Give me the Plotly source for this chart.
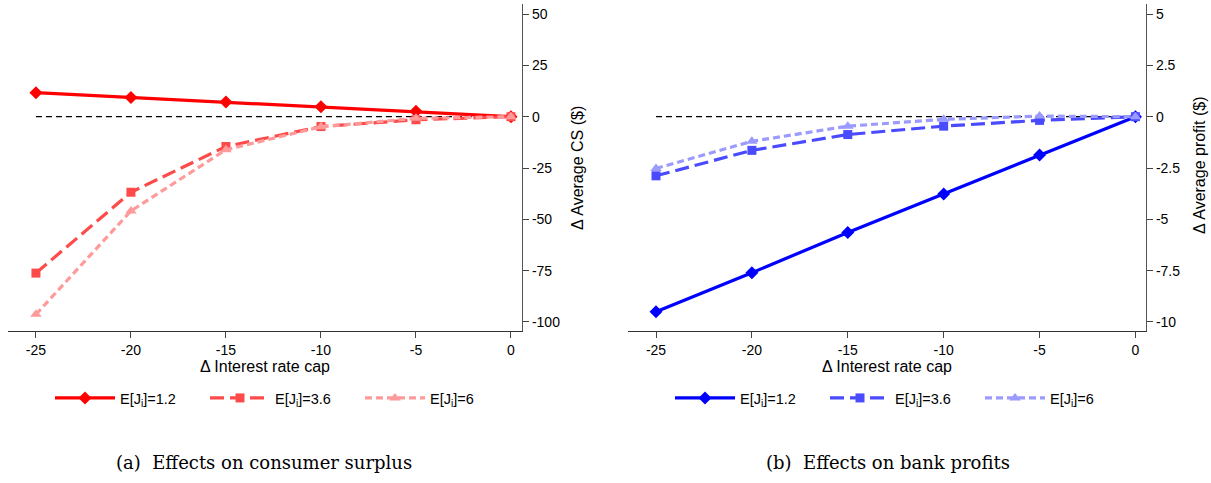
import plotly.graph_objects as go

# ---- data ----
rate_cap = [-25, -20, -15, -10, -5, 0]
rate_cap_labels = ["-25", "-20", "-15", "-10", "-5", "0"]
series_names = ["E[J<sub>i</sub>]=1.2", "E[J<sub>i</sub>]=3.6", "E[J<sub>i</sub>]=6"]

cs_12 = [11.7, 9.4, 7.2, 4.8, 2.6, 0.0]
cs_36 = [-76.2, -36.8, -14.5, -4.8, -1.5, 0.0]
cs_6 = [-96.3, -45.9, -16.1, -4.9, -0.8, 0.0]

pf_12 = [-9.5, -7.6, -5.64, -3.77, -1.86, 0.0]
pf_36 = [-2.88, -1.64, -0.87, -0.46, -0.18, 0.0]
pf_6 = [-2.52, -1.2, -0.46, -0.13, 0.03, 0.0]

cs_ticks = [50, 25, 0, -25, -50, -75, -100]
cs_ticklabels = ["50", "25", "0", "-25", "-50", "-75", "-100"]
pf_ticks = [5, 2.5, 0, -2.5, -5, -7.5, -10]
pf_ticklabels = ["5", "2.5", "0", "-2.5", "-5", "-7.5", "-10"]
zero_line = [0, 0]

W, H = 1211, 483
FONT = "Liberation Sans, Arial, sans-serif"
SERIF = "DejaVu Serif, Liberation Serif, serif"

reds = ["#ff0000", "#ff4a4a", "#ff9a9a"]
blues = ["#0000ff", "#4a4aff", "#9a9aff"]
dashes = ["solid", "14px,6px", "7px,4px"]
symbols = ["diamond", "square", "triangle-up"]
msizes = [10, 9, 10]

fig = go.Figure()

for vals, col, dsh, sym, ms, nm in zip([cs_12, cs_36, cs_6], reds, dashes, symbols, msizes, series_names):
    fig.add_trace(go.Scatter(x=rate_cap, y=vals, mode="lines+markers", name=nm,
                             line=dict(color=col, width=3.2, dash=dsh),
                             marker=dict(symbol=sym, size=ms, color=col),
                             xaxis="x", yaxis="y", legend="legend"))
for vals, col, dsh, sym, ms, nm in zip([pf_12, pf_36, pf_6], blues, dashes, symbols, msizes, series_names):
    fig.add_trace(go.Scatter(x=rate_cap, y=vals, mode="lines+markers", name=nm,
                             line=dict(color=col, width=3.2, dash=dsh),
                             marker=dict(symbol=sym, size=ms, color=col),
                             xaxis="x2", yaxis="y2", legend="legend2"))

# dashed zero reference lines
for xr, yr in [("x", "y"), ("x2", "y2")]:
    fig.add_shape(type="line", xref=xr, yref=yr, x0=rate_cap[0], x1=rate_cap[-1],
                  y0=zero_line[0], y1=zero_line[1], layer="below",
                  line=dict(color="black", width=1.2, dash="6px,4px"))

ybot = 1 - 331 / H
ytop = 1 - 4 / H

common_x = dict(tickvals=rate_cap, ticktext=rate_cap_labels, ticks="outside", ticklen=6,
                showline=True, linecolor="#333333", linewidth=1.2, showgrid=False,
                zeroline=False, tickfont=dict(family=FONT, size=14, color="black"),
                title=dict(text="Δ Interest rate cap", font=dict(family=FONT, size=16, color="black"),
                           standoff=2))
common_y = dict(side="right", ticks="outside", ticklen=6, showline=True, linecolor="#555555",
                linewidth=1.2, showgrid=False, zeroline=False,
                tickfont=dict(family=FONT, size=14, color="black"))

legend_common = dict(orientation="h", y=1 - 398 / H, xanchor="left", yanchor="middle",
                     entrywidth=80, itemwidth=60,
                     font=dict(family=FONT, size=14.5, color="black"),
                     bgcolor="rgba(0,0,0,0)")

fig.update_layout(
    width=W, height=H, margin=dict(l=0, r=0, t=0, b=0), autosize=False,
    paper_bgcolor="white", plot_bgcolor="white",
    showlegend=True,
    xaxis=dict(domain=[8 / W, 522 / W], anchor="y", range=[-26.47, 0.58], **common_x),
    xaxis2=dict(domain=[628 / W, 1146 / W], anchor="y2", range=[-26.46, 0.55], **common_x),
    yaxis=dict(domain=[ybot, ytop], anchor="x", range=[-104.4, 54.9], tickvals=cs_ticks,
               ticktext=cs_ticklabels, **common_y),
    yaxis2=dict(domain=[ybot, ytop], anchor="x2", range=[-10.44, 5.49], tickvals=pf_ticks,
                ticktext=pf_ticklabels, **common_y),
    legend=dict(x=50 / W, **legend_common),
    legend2=dict(x=670 / W, **legend_common),
)

# rotated y-axis titles
fig.add_annotation(text="Δ Average CS ($)", xref="paper", yref="paper", x=577 / W, y=1 - 168 / H,
                   xanchor="center", yanchor="middle",
                   textangle=-90, showarrow=False, font=dict(family=FONT, size=16, color="black"))
fig.add_annotation(text="Δ Average profit ($)", xref="paper", yref="paper", x=1199 / W, y=1 - 165 / H,
                   xanchor="center", yanchor="middle",
                   textangle=-90, showarrow=False, font=dict(family=FONT, size=16, color="black"))

# captions
fig.add_annotation(text="(a)  Effects on consumer surplus", xref="paper", yref="paper",
                   x=264 / W, y=1 - 462 / H, xanchor="center", yanchor="middle", showarrow=False,
                   font=dict(family=SERIF, size=18, color="black"))
fig.add_annotation(text="(b)  Effects on bank profits", xref="paper", yref="paper",
                   x=888 / W, y=1 - 462 / H, xanchor="center", yanchor="middle", showarrow=False,
                   font=dict(family=SERIF, size=18, color="black"))

fig.write_html("out.html", config={"responsive": False, "displayModeBar": False},
               post_script="document.body.style.margin='0';document.body.style.overflow='hidden';")
